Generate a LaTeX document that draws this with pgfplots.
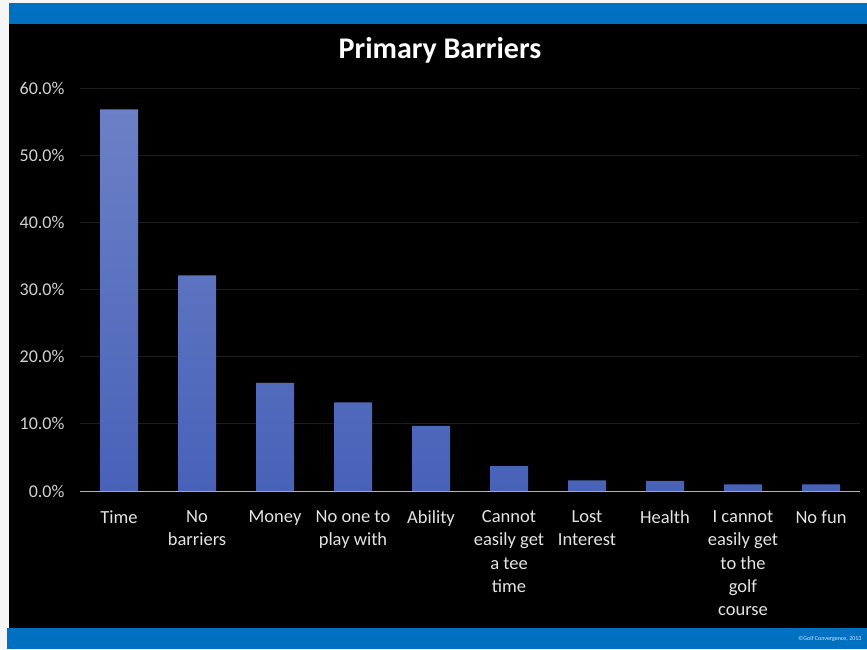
\documentclass[border=0pt]{standalone}
\usepackage{pgfplots}
\pgfplotsset{compat=1.18}
\usepackage{fontspec}
\setmainfont{Carlito}

\definecolor{slideblue}{RGB}{0,112,192}
\definecolor{bartop}{RGB}{108,128,198}
\definecolor{barbottom}{RGB}{72,98,184}
\definecolor{gridc}{RGB}{28,28,28}
\definecolor{ticktext}{RGB}{210,210,210}
\definecolor{cattext}{RGB}{228,228,228}

\begin{document}
\begin{tikzpicture}[x=1pt,y=1pt]
  % slide frame
  \fill[white!93!gray] (0,0) rectangle (867,649);
  \fill[black] (9,21) rectangle (867,625);
  \fill[slideblue] (9,625) rectangle (867,646);
  \fill[slideblue] (7,0) rectangle (867,21);
  \useasboundingbox (0,0) rectangle (867,649);

  \node[font=\bfseries\fontsize{30}{32}\selectfont, text=white] at (440,599) {Primary Barriers};
  \node[font=\fontsize{6}{7}\selectfont, text=white!85!slideblue, anchor=east] at (865,10) {©Golf Convergence, 2013};

  \begin{axis}[
    at={(80pt,158pt)}, anchor=south west,
    scale only axis, width=780pt, height=403pt,
    xmin=-0.5, xmax=9.5, ymin=0, ymax=60,
    ytick={0,10,...,60},
    xtick={0,...,9},
    xticklabels={Time, {No\\barriers}, Money, {No one to\\play with}, Ability,
      {Cannot\\easily get\\a tee\\time}, {Lost\\Interest}, Health,
      {I cannot\\easily get\\to the\\golf\\course}, No fun},
    xticklabel style={align=center, text=cattext, font=\fontsize{18.5}{23.3}\selectfont, yshift=-16pt, anchor=north},
    yticklabel={\pgfmathprintnumber[fixed,fixed zerofill,precision=1]{\tick}\%},
    yticklabel style={text=ticktext, font=\fontsize{18}{20}\selectfont, xshift=-12pt},
    /pgf/number format/assume math mode=true,
    major tick length=0pt,
    axis x line*=bottom, axis y line*=left,
    x axis line style={draw=gray!60, line width=1pt, -},
    y axis line style={draw=none},
    ymajorgrids, grid style={draw=gridc, line width=1pt},
    clip=false,
  ]
    \addplot[ybar, bar width=38pt, draw=none, top color=bartop, bottom color=barbottom]
      coordinates {(0,56.8) (1,32.1) (2,16.1) (3,13.2) (4,9.7) (5,3.7) (6,1.6) (7,1.5) (8,1.0) (9,1.0)};
  \end{axis}
\end{tikzpicture}
\end{document}
